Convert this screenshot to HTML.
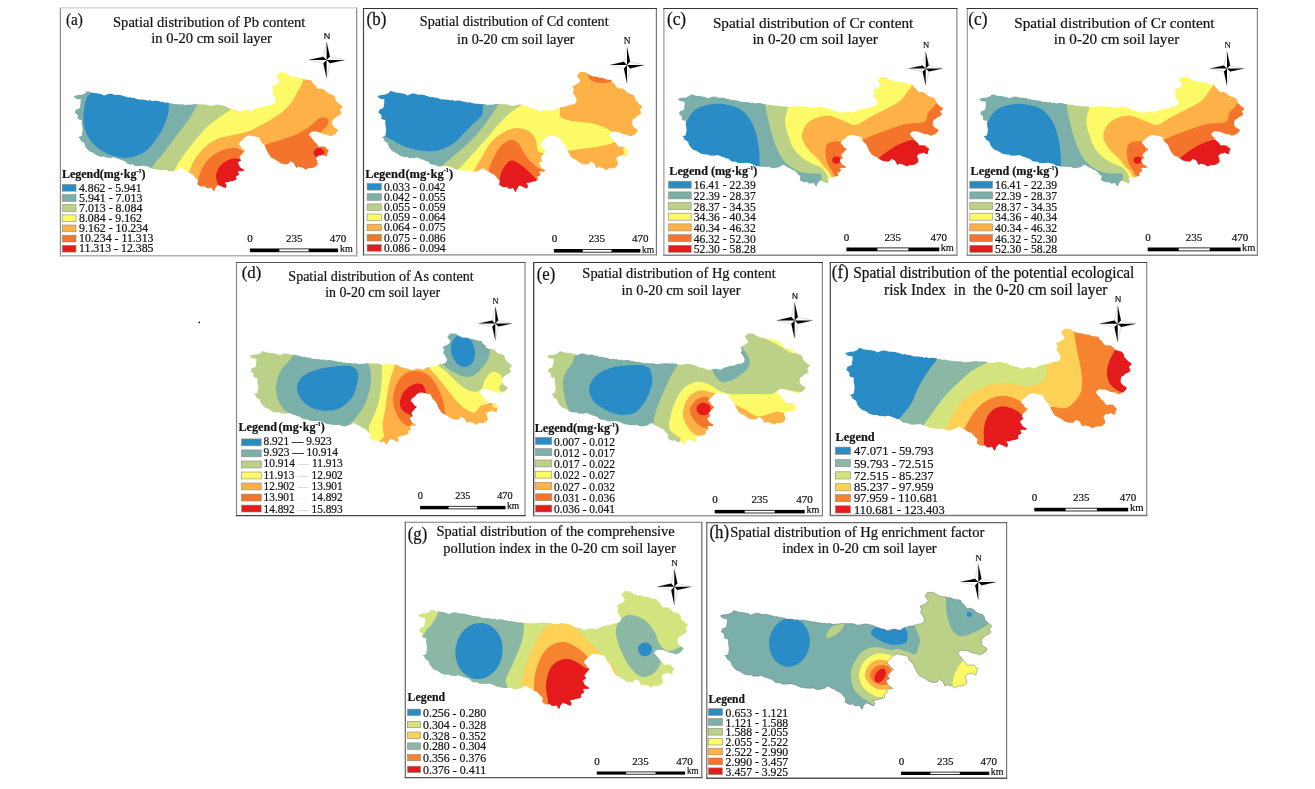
<!DOCTYPE html>
<html><head><meta charset="utf-8"><title>Spatial distribution of heavy metals in 0-20 cm soil layer</title>
<style>
html,body{margin:0;padding:0;background:#fff;}
body{width:1315px;height:789px;overflow:hidden;}
svg{display:block;font-family:"Liberation Serif","Times New Roman",serif;will-change:transform;}
svg text{fill:#141414;stroke:#141414;stroke-width:.22px;}
</style></head><body>
<svg width="1315" height="789" viewBox="0 0 1315 789">
<defs><path id="ol" d="M845 353.1 L847.5 352.5 L849.9 351.8 L852.5 351.8 L855.1 351.1 L857.5 350 L858.7 348.1 L861.3 348.3 L863.7 349.4 L866.6 349.8 L869.5 350 L872.4 350.6 L875.1 351.1 L877.4 352.5 L879.9 351.6 L882.4 350.6 L885 350.5 L887.4 351.3 L889.9 351.8 L892.9 351.7 L895.8 352.2 L898.6 353.1 L900.8 353.5 L902.9 354.4 L905.2 354.1 L907.3 355 L909.8 355 L912.3 355.9 L914.7 356.6 L917.3 356.5 L919.8 356.8 L922 356.9 L924.1 357.8 L926.4 357 L928.5 358.2 L930.8 357.7 L933 357.8 L935.2 358 L937.3 358.7 L939.8 358.9 L942.2 359.8 L944.9 359.5 L947.3 360.3 L949.8 360.6 L952.3 361.1 L954.8 361 L957.2 361.6 L959.8 361.3 L962.3 361.6 L964.7 362.4 L967.3 361.7 L969.9 361.9 L972.5 361.3 L975 361.3 L977.5 361.2 L979.9 361.5 L982.4 361.4 L984.9 361.5 L987.4 362 L989.8 363 L992.4 362.9 L994.8 362.4 L997.3 361.7 L1000.1 361.8 L1002.8 362.7 L1005.5 363 L1008.2 364.1 L1010.7 365.5 L1013.5 366.1 L1015.8 367 L1018.3 367.1 L1020.4 368.5 L1022.9 368.6 L1026.6 367.4 L1028.9 367.1 L1031.1 367.6 L1033.3 368.2 L1035.5 368 L1037.4 366.4 L1039.7 365.5 L1042.4 365 L1045 364 L1047.8 364 L1050.5 363.2 L1053 362 L1056.2 361.7 L1059.2 360.7 L1060.9 357.4 L1059.7 354.9 L1058.4 352.4 L1056.5 349.9 L1057.7 346.8 L1055.9 343.1 L1058.1 342.7 L1059.9 341.2 L1062.1 340.6 L1064.6 337.5 L1062.9 334.9 L1060.9 332.5 L1062.5 330.7 L1064 328.7 L1066.8 328.8 L1069.6 328.7 L1072.1 330.2 L1074.6 331.8 L1076.7 332.7 L1078.8 333.3 L1081.1 333.2 L1083.3 333.7 L1085.8 334.5 L1088.4 334.5 L1090.8 335.6 L1093.3 336.2 L1095.8 336.6 L1098.3 336.8 L1099.7 339.4 L1102 341.2 L1103.6 343.7 L1105.8 345.6 L1108.2 345.3 L1110.7 345.6 L1113.3 347.6 L1115.7 349.9 L1118.8 351 L1122 351.8 L1123.8 354.4 L1124.5 357.4 L1126.4 359.3 L1128.2 361.2 L1130.3 362.4 L1131.9 364.3 L1128.8 366.8 L1130.7 370.5 L1128.4 372.4 L1125.7 373.6 L1123.8 375.6 L1121.3 376.7 L1120.7 379.5 L1120.7 382.4 L1123.2 385.5 L1125.3 386.4 L1127 388 L1125.3 390.4 L1123.2 392.3 L1120.7 393.4 L1118.2 394.2 L1115.9 392.8 L1113.2 392.3 L1110.6 391.9 L1108.2 390.7 L1105.8 389.8 L1102.7 389.4 L1099.5 389.2 L1097.4 390.4 L1095.8 392.3 L1097.4 394.7 L1099.5 396.7 L1101.1 399.2 L1103.3 401.1 L1104.8 402.8 L1105.8 404.8 L1108.3 404.7 L1110.7 404.6 L1113.2 404.8 L1114.8 407 L1117 408.6 L1115.5 411.5 L1115.1 414.8 L1112.7 414.2 L1110.7 412.9 L1108.4 413.9 L1105.9 414.1 L1103.4 416.6 L1104.7 419.7 L1105.3 422.9 L1102.2 426 L1099.1 426.6 L1095.9 426.6 L1092.2 428.5 L1089.7 426.6 L1087.2 426 L1084.7 425.3 L1082.2 426.6 L1081 424.1 L1079.7 421.6 L1076 419.7 L1073.5 422.8 L1069.8 422.8 L1067.6 422.3 L1065.4 421.8 L1063.5 420.4 L1061.6 419.2 L1059.8 417.9 L1057.2 416.8 L1054.8 415.4 L1053.6 413.5 L1052.3 411.6 L1051 409 L1049.7 405.8 L1048.4 403.4 L1046.4 401.5 L1044.5 399.5 L1043 395.5 L1040.2 394.8 L1037.3 394.2 L1034.5 393.6 L1031.6 393.2 L1029.4 394.1 L1027.3 395.4 L1025.5 397.5 L1022.4 399.8 L1021 402.6 L1023.4 404.6 L1024.9 407.3 L1028 409.1 L1026.1 410.5 L1024.6 412.3 L1022.9 414 L1021.7 416 L1023.6 419.1 L1021.5 420.1 L1019.9 421.6 L1021.3 423.7 L1022.4 426 L1024.9 427.4 L1027.3 429.1 L1024.9 430 L1022.3 429.7 L1019.9 430.3 L1021.7 432.8 L1020.1 434.5 L1018 435.3 L1018.6 438.4 L1015.7 439.8 L1012.4 440.3 L1009.3 441.3 L1006.1 441.6 L1008 444.1 L1007.4 447.2 L1004.8 446.6 L1002.4 445.3 L998.7 444.1 L996.2 447.2 L994.9 450.9 L993.2 448.9 L991.8 446.6 L989.4 447.4 L986.8 447.2 L984.9 445.3 L982.5 445.9 L980 445.3 L976.8 443.4 L977.5 439.1 L975.3 437.5 L973.7 435.3 L971.2 432.8 L968.9 432.2 L967 430.9 L965 429.7 L962.2 428.6 L960 426.5 L957.1 427.4 L954.7 429.2 L951.6 429.7 L948.5 430.4 L945.9 429.9 L943.5 428.6 L940.6 428.9 L937.7 428.8 L934.8 428.6 L932.3 428.1 L929.7 427.8 L927.3 426.7 L924.9 425.4 L922.3 424.8 L919.8 424.1 L917.3 424.6 L914.8 424.5 L912.3 424.8 L909.8 424.2 L907.3 422.9 L904.8 423.1 L902.4 422.3 L899.9 419.8 L897.3 419.1 L894.9 418 L892.3 417.3 L889.9 416.1 L887.4 415.7 L884.9 416.5 L882.4 416.1 L879.8 416.3 L877.5 414.9 L874.9 415.1 L872.4 414.8 L869.7 413.9 L867.4 412.3 L865 410.8 L862.2 409.9 L860 408 L857.5 404.9 L856.2 401.1 L854.4 399.8 L852.5 398.6 L851.7 396.4 L850 394.9 L853.7 393.6 L854.3 389.9 L854.6 387.4 L854.3 384.9 L853.7 382.4 L853.7 379.9 L853.7 377.4 L851.4 377.2 L849.4 376.2 L849.4 372.4 L846.2 369.9 L847.5 366.8 L849.8 366.1 L851.8 364.9 L852.1 362 L852.6 359.1 L852.5 356.2 L850 356.1 L847.5 355.6Z"/></defs>
<rect width="1315" height="789" fill="#fff"/>
<g><rect x="60.4" y="7.9" width="296.3" height="247.9" fill="#fff"/><path d="M60.4 7.4 V256.4" stroke="#8a8a8a" stroke-width="1.2" fill="none"/><path d="M356.7 7.4 V256.4" stroke="#8a8a8a" stroke-width="1.2" fill="none"/><path d="M59.8 7.9 H357.3" stroke="#cdcdcd" stroke-width="1.1" fill="none"/><path d="M59.8 255.8 H357.3" stroke="#b0b0b0" stroke-width="1.4" fill="none"/><mask id="c1" maskUnits="userSpaceOnUse" x="70.6" y="69.4" width="275.2" height="125.2"><use href="#ol" transform="translate(73.60 72.40) scale(0.9383 0.9755) translate(-845.00 -328.70)" fill="#fff"/></mask><g mask="url(#c1)"><rect x="71.6" y="70.4" width="273.2" height="123.2" fill="#7aafaa"/><path d="M91 93 C91.8 91.1 85.5 86.3 92 85 C98.5 83.7 117.2 83.3 130 85 C142.8 86.7 162.5 91.8 169 95 C175.5 98.2 169.2 100.6 169 104 C168.8 107.4 169 111 167.7 115.5 C166.4 120 164.6 125.2 161.4 130.7 C158.2 136.2 152.8 144.3 148.7 148.4 C144.6 152.5 141.2 153.9 137 155.5 C132.8 157.1 128.4 158.3 123.4 158 C118.4 157.7 112 155.9 106.9 153.5 C101.8 151.1 96.6 147.2 93 143.4 C89.4 139.6 86.9 134.9 85.3 130.7 C83.7 126.5 83.5 122.2 83.4 118 C83.3 113.8 84.1 108.9 84.7 105.3 C85.3 101.7 86.2 98.5 87.2 96.5 C88.2 94.5 90.2 94.9 91 93Z" fill="#2a8cc7"/><path d="M199 96 C198.7 97.5 198.7 101.2 197 105 C195.3 108.8 192.3 114 189 119 C185.7 124 181 129.7 177 135 C173 140.3 169 145.8 165 151 C161 156.2 155.8 161.8 153 166 C150.2 170.2 148.8 174.3 148 176 L148 200 L360 200 L360 60 L199 60Z" fill="#bbd188"/><path d="M236 100 C235.2 101.5 234.2 105.8 231 109 C227.8 112.2 221.3 115.7 217 119 C212.7 122.3 209 125 205 129 C201 133 197 138 193 143 C189 148 184.2 154.3 181 159 C177.8 163.7 176 167.2 174 171 C172 174.8 169.8 180.2 169 182 L169 200 L360 200 L360 60 L236 60Z" fill="#fcfa66"/><path d="M185 182 C185.7 180.3 187.3 175.8 189 172 C190.7 168.2 192.3 163.2 195 159 C197.7 154.8 201.3 150.3 205 147 C208.7 143.7 212.3 141 217 139 C221.7 137 227.7 136.3 233 135 C238.3 133.7 243.7 133 249 131 C254.3 129 259.7 126 265 123 C270.3 120 276.7 116.3 281 113 C285.3 109.7 288.3 106.3 291 103 C293.7 99.7 295 96.7 297 93 C299 89.3 301.5 85.2 303 81 C304.5 76.8 305.5 70.2 306 68 L360 68 L360 200 L185 200Z" fill="#fdb146"/><path d="M196 190 C196.3 188.3 196.8 183.8 198 180 C199.2 176.2 200.8 170.8 203 167 C205.2 163.2 207.7 159.8 211 157 C214.3 154.2 219 151.5 223 150 C227 148.5 231.7 147.8 235 148 C238.3 148.2 240.2 149.3 243 151 C245.8 152.7 250.5 156.8 252 158 L252 200 L196 200Z" fill="#f5742b"/><path d="M219 195 C218.8 193.3 218.5 188.3 218 185 C217.5 181.7 215.5 178.3 216 175 C216.5 171.7 218.5 167.7 221 165 C223.5 162.3 227.8 160 231 159 C234.2 158 236.8 158.3 240 159 C243.2 159.7 248.3 162.3 250 163 L250 200 L219 200Z" fill="#e41a1c"/><path d="M258 150 C258.8 144.2 261.8 146.5 265 145 C268.2 143.5 272 142.7 277 141 C282 139.3 289.7 137.3 295 135 C300.3 132.7 305.3 129.5 309 127 C312.7 124.5 314.7 121.6 317 120 C319.3 118.4 321.2 117.4 323 117.3 C324.8 117.2 327.2 118.2 328 119.5 C328.8 120.8 328.5 123.1 327.5 125 C326.5 126.9 323.6 129.2 322 131 C320.4 132.8 315.8 132.8 318 136 C320.2 139.2 332.2 142.7 335 150 C337.8 157.3 347.5 175 335 180 C322.5 185 272.8 185 260 180 C247.2 175 257.2 155.8 258 150Z" fill="#f5742b"/><ellipse cx="319" cy="152.8" rx="5.4" ry="4.7" fill="#e41a1c"/></g><text transform="translate(65.9 24.6) scale(0.957 1.059)" font-size="16">(a)</text><text x="209.2" y="26.5" font-size="14.55" text-anchor="middle">Spatial distribution of Pb content</text><text x="211.6" y="43.2" font-size="14.57" text-anchor="middle">in 0-20 cm soil layer</text><g transform="translate(326.6 60)"><path d="M0 -18.2 L3.3 -3.3 L18.1 0 L3.3 3.3 L0 18.2 L-3.3 3.3 L-18.1 0 L-3.3 -3.3 Z" fill="#fff" stroke="#9a9a9a" stroke-width="0.35"/><path d="M0 0 L0 -18.2 L3.3 -3.3 Z M0 0 L18.1 0 L3.3 3.3 Z M0 0 L0 18.2 L-3.3 3.3 Z M0 0 L-18.1 0 L-3.3 -3.3 Z" fill="#000"/></g><text x="327" y="38.7" font-size="9" text-anchor="middle" fill="#222" font-family="Liberation Sans, sans-serif">N</text><rect x="249.9" y="248.5" width="88.2" height="3.7" fill="#000"/><rect x="279.3" y="249.3" width="29.4" height="2.1" fill="#fff"/><text x="250" y="242" font-size="11" text-anchor="middle">0</text><text x="294.3" y="242" font-size="11" text-anchor="middle">235</text><text x="338" y="242" font-size="11" text-anchor="middle">470</text><text transform="translate(339.9 251.9) scale(0.954 1.000)" font-size="10.5">km</text><text transform="translate(61.9 177.8) scale(1.016 1)" font-size="11.8" font-weight="bold">Legend<tspan dx="0">(mg·kg</tspan><tspan font-size="5.9" dy="-5.1">-1</tspan><tspan dy="5.1">)</tspan></text><rect x="62.2" y="184.4" width="13.8" height="6.8" fill="#2a8cc7" stroke="#8c8c78" stroke-width="0.6"/><text transform="translate(79 191.5) scale(1.012 1.000)" font-size="11.6">4.862 - 5.941</text><rect x="62.2" y="194.6" width="13.8" height="6.8" fill="#7aafaa" stroke="#8c8c78" stroke-width="0.6"/><text transform="translate(79 201.7) scale(1.025 1.000)" font-size="11.6">5.941 - 7.013</text><rect x="62.2" y="204.7" width="13.8" height="6.8" fill="#bbd188" stroke="#8c8c78" stroke-width="0.6"/><text transform="translate(79 211.8) scale(1.025 1.000)" font-size="11.6">7.013 - 8.084</text><rect x="62.2" y="214.9" width="13.8" height="6.8" fill="#fcfa66" stroke="#8c8c78" stroke-width="0.6"/><text transform="translate(79 221.9) scale(1.018 1.000)" font-size="11.6">8.084 - 9.162</text><rect x="62.2" y="225" width="13.8" height="6.8" fill="#fdb146" stroke="#8c8c78" stroke-width="0.6"/><text transform="translate(79 232.1) scale(1.023 1.000)" font-size="11.6">9.162 - 10.234</text><rect x="62.2" y="235.2" width="13.8" height="6.8" fill="#f5742b" stroke="#8c8c78" stroke-width="0.6"/><text transform="translate(79 242.2) scale(1.021 1.000)" font-size="11.6">10.234 - 11.313</text><rect x="62.2" y="245.3" width="13.8" height="6.8" fill="#e41a1c" stroke="#8c8c78" stroke-width="0.6"/><text transform="translate(79 252.4) scale(1.021 1.000)" font-size="11.6">11.313 - 12.385</text></g>
<g><rect x="363.5" y="8.5" width="292.9" height="246.4" fill="#fff"/><path d="M363.5 8 V255.5" stroke="#444" stroke-width="1.2" fill="none"/><path d="M656.4 8 V255.5" stroke="#777" stroke-width="1.2" fill="none"/><path d="M362.9 8.5 H657" stroke="#333" stroke-width="1.1" fill="none"/><path d="M362.9 254.9 H657" stroke="#888" stroke-width="1.4" fill="none"/><mask id="c2" maskUnits="userSpaceOnUse" x="374.3" y="69" width="271.2" height="126.2"><use href="#ol" transform="translate(377.30 72.00) scale(0.9244 0.9836) translate(-845.00 -328.70)" fill="#fff"/></mask><g mask="url(#c2)"><rect x="375.3" y="70" width="269.2" height="124.2" fill="#fcfa66"/><path d="M524 98 C523.5 99.2 523.3 102.5 521 105 C518.7 107.5 513.8 109.7 510 113 C506.2 116.3 502 120.7 498 125 C494 129.3 490.7 133.7 486 139 C481.3 144.3 474.7 151.8 470 157 C465.3 162.2 461 166.2 458 170 C455 173.8 453 178.3 452 180 L452 200 L360 200 L360 60 L524 60Z" fill="#bbd188"/><path d="M499 98 C498.8 99 499.5 100.8 498 104 C496.5 107.2 493.3 112.2 490 117 C486.7 121.8 482.3 128 478 133 C473.7 138 468.7 142.7 464 147 C459.3 151.3 453.3 156.2 450 159 C446.7 161.8 446.7 161.5 444 164 C441.3 166.5 435.7 172.3 434 174 L434 200 L360 200 L360 60 L499 60Z" fill="#7aafaa"/><path d="M483 95 C483 96.7 483.2 101.7 483 105 C482.8 108.3 483.5 112 482 115 C480.5 118 477 120 474 123 C471 126 467.3 129.7 464 133 C460.7 136.3 458 140.2 454 143 C450 145.8 445 148.7 440 150 C435 151.3 429.7 151.5 424 151 C418.3 150.5 411.3 148.8 406 147 C400.7 145.2 396 142 392 140 C388 138 386.3 137.3 382 135 C377.7 132.7 368.7 127.5 366 126 L360 126 L360 60 L483 60Z" fill="#2a8cc7"/><path d="M471 180 C471.5 178.5 472.2 174.8 474 171 C475.8 167.2 479 162 482 157 C485 152 488 145.3 492 141 C496 136.7 501.7 133.2 506 131 C510.3 128.8 514 127.8 518 128 C522 128.2 527 129.8 530 132 C533 134.2 534.7 137.8 536 141 C537.3 144.2 536.3 148.8 538 151 C539.7 153.2 543 152.5 546 154 C549 155.5 554.3 159 556 160 L560 200 L471 200Z" fill="#fdb146"/><path d="M486 182 C486.3 180.5 487 176.5 488 173 C489 169.5 490 165.3 492 161 C494 156.7 497 150.5 500 147 C503 143.5 507 140.7 510 140 C513 139.3 515.7 140.8 518 143 C520.3 145.2 522 150 524 153 C526 156 527.3 158.3 530 161 C532.7 163.7 536.3 166.8 540 169 C543.7 171.2 550 173.2 552 174 L552 200 L486 200Z" fill="#f5742b"/><path d="M498 195 C498.2 193 498.3 187 499 183 C499.7 179 500.2 174.7 502 171 C503.8 167.3 507.3 162.3 510 161 C512.7 159.7 515 161.3 518 163 C521 164.7 525 168.3 528 171 C531 173.7 533 176.3 536 179 C539 181.7 544.3 185.7 546 187 L546 200 L498 200Z" fill="#e41a1c"/><path d="M559 100 C559.2 101.5 559.7 106.2 560 109 C560.3 111.8 559 115 561 117 C563 119 567.2 120 572 121 C576.8 122 584.7 122 590 123 C595.3 124 600.3 125.5 604 127 C607.7 128.5 609.3 130.8 612 132 C614.7 133.2 617.3 133.3 620 134 C622.7 134.7 623 135.3 628 136 C633 136.7 646.3 137.7 650 138 L660 138 L660 60 L559 60Z" fill="#fdb146"/><path d="M589 78 C589.8 79.9 592.2 80.7 594 81.5 C595.8 82.3 597.8 82.8 600 83 C602.2 83.2 605 83 607 82.5 C609 82 611.2 82.1 612 80 C612.8 77.9 615.8 71.7 612 70 C608.2 68.3 592.8 68.7 589 70 C585.2 71.3 588.2 76.1 589 78Z" fill="#f5742b"/><path d="M558 152.5 C559.5 152.2 563.3 151.6 567 151 C570.7 150.4 575.2 149.7 580 149 C584.8 148.3 591 147.8 596 147 C601 146.2 606.7 144.9 610 144 C613.3 143.1 614 141.2 616 141.5 C618 141.8 618 144.6 622 146 C626 147.4 637 149.3 640 150 L640 185 L558 185Z" fill="#fdb146"/><path d="M623.3 146 L627 145.5 L629 151 L626.5 157.5 L623.5 154Z" fill="#fcfa66"/></g><text transform="translate(366.6 24.6) scale(1.056 1.208)" font-size="16">(b)</text><text x="514.2" y="26.1" font-size="14.17" text-anchor="middle">Spatial distribution of Cd content</text><text x="515.8" y="43.6" font-size="14.2" text-anchor="middle">in 0-20 cm soil layer</text><g transform="translate(627 65.1)"><path d="M0 -18.2 L3.1 -3.3 L17.1 0 L3.1 3.3 L0 18.2 L-3.1 3.3 L-17.1 0 L-3.1 -3.3 Z" fill="#fff" stroke="#9a9a9a" stroke-width="0.35"/><path d="M0 0 L0 -18.2 L3.1 -3.3 Z M0 0 L17.1 0 L3.1 3.3 Z M0 0 L0 18.2 L-3.1 3.3 Z M0 0 L-17.1 0 L-3.1 -3.3 Z" fill="#000"/></g><text x="627" y="43.7" font-size="9.3" text-anchor="middle" fill="#222">N</text><rect x="553.9" y="249" width="86.5" height="3.6" fill="#000"/><rect x="582.7" y="249.8" width="28.8" height="2" fill="#fff"/><text x="554.4" y="242" font-size="11" text-anchor="middle">0</text><text x="596.8" y="242" font-size="11" text-anchor="middle">235</text><text x="640.2" y="242" font-size="11" text-anchor="middle">470</text><text transform="translate(642 252.5) scale(0.902 1.000)" font-size="10.5">km</text><text transform="translate(365.2 177.7) scale(0.943 1)" font-size="13.3" font-weight="bold">Legend<tspan dx="0.6">(mg·kg</tspan><tspan font-size="6.7" dy="-5.7">-1</tspan><tspan dy="5.7">)</tspan></text><rect x="367.1" y="183.5" width="14.2" height="6.6" fill="#2a8cc7" stroke="#8c8c78" stroke-width="0.6"/><text transform="translate(383.9 190.7) scale(0.942 1.000)" font-size="12.3">0.033 - 0.042</text><rect x="367.1" y="193.7" width="14.2" height="6.6" fill="#7aafaa" stroke="#8c8c78" stroke-width="0.6"/><text transform="translate(383.9 200.9) scale(0.942 1.000)" font-size="12.3">0.042 - 0.055</text><rect x="367.1" y="203.9" width="14.2" height="6.6" fill="#bbd188" stroke="#8c8c78" stroke-width="0.6"/><text transform="translate(383.9 211.1) scale(0.942 1.000)" font-size="12.3">0.055 - 0.059</text><rect x="367.1" y="214" width="14.2" height="6.6" fill="#fcfa66" stroke="#8c8c78" stroke-width="0.6"/><text transform="translate(383.9 221.2) scale(0.942 1.000)" font-size="12.3">0.059 - 0.064</text><rect x="367.1" y="224.2" width="14.2" height="6.6" fill="#fdb146" stroke="#8c8c78" stroke-width="0.6"/><text transform="translate(383.9 231.4) scale(0.942 1.000)" font-size="12.3">0.064 - 0.075</text><rect x="367.1" y="234.4" width="14.2" height="6.6" fill="#f5742b" stroke="#8c8c78" stroke-width="0.6"/><text transform="translate(383.9 241.6) scale(0.942 1.000)" font-size="12.3">0.075 - 0.086</text><rect x="367.1" y="244.6" width="14.2" height="6.6" fill="#e41a1c" stroke="#8c8c78" stroke-width="0.6"/><text transform="translate(383.9 251.8) scale(0.942 1.000)" font-size="12.3">0.086 - 0.094</text></g>
<g><rect x="663.9" y="8.5" width="293" height="246.7" fill="#fff"/><path d="M663.9 8 V255.8" stroke="#999" stroke-width="1.2" fill="none"/><path d="M956.9 8 V255.8" stroke="#888" stroke-width="1.2" fill="none"/><path d="M663.3 8.5 H957.5" stroke="#333" stroke-width="1.1" fill="none"/><path d="M663.3 255.2 H957.5" stroke="#888" stroke-width="1.4" fill="none"/><mask id="c3" maskUnits="userSpaceOnUse" x="674.7" y="74" width="271.5" height="115.7"><use href="#ol" transform="translate(677.70 77.00) scale(0.9254 0.8977) translate(-845.00 -328.70)" fill="#fff"/></mask><g mask="url(#c3)"><rect x="675.7" y="75" width="269.5" height="113.7" fill="#7aafaa"/><path d="M687 121 C689.5 116 691.5 112.7 695 110 C698.5 107.3 703.5 106 708 105 C712.5 104 716.7 103.3 722 104 C727.3 104.7 735 105.8 740 109 C745 112.2 749 117.3 752 123 C755 128.7 756.8 136 758 143 C759.2 150 760 159.2 759.5 165 C759 170.8 761.6 175.8 755 178 C748.4 180.2 730.8 181 720 178 C709.2 175 696.7 166.3 690 160 C683.3 153.7 680.5 146.5 680 140 C679.5 133.5 684.5 126 687 121Z" fill="#2a8cc7"/><path d="M765 98 C765 99 764.5 100.5 765 104 C765.5 107.5 766.8 113.8 768 119 C769.2 124.2 770.3 129.7 772 135 C773.7 140.3 775.7 146.3 778 151 C780.3 155.7 782.7 159.7 786 163 C789.3 166.3 794 169.2 798 171 C802 172.8 806.5 173.1 810 173.5 C813.5 173.9 817.1 173.1 819 173.5 C820.9 173.9 821.2 173.6 821.5 176 C821.8 178.4 820.7 186 820.5 188 L960 188 L960 60 L765 60Z" fill="#bbd188"/><path d="M789 98 C788.8 99.7 788.7 104.2 788 108 C787.3 111.8 785 116.5 785 121 C785 125.5 786.5 130.3 788 135 C789.5 139.7 791.3 145 794 149 C796.7 153 800.7 156.4 804 159 C807.3 161.6 811.1 163.1 814 164.5 C816.9 165.9 819.3 166.1 821.3 167.5 C823.3 168.9 824.8 171.4 826 173.2 C827.2 174.9 828.1 177.2 828.5 178 L836 178 L960 190 L960 60 L789 60Z" fill="#fcfa66"/><path d="M833 180 C832.6 179.2 831.8 176.9 830.8 175.1 C829.8 173.3 828.1 170.8 827 169.4 C825.9 168.1 825.5 168.7 824 167 C822.5 165.3 820.7 162 818 159 C815.3 156 810.7 152.7 808 149 C805.3 145.3 802.3 141 802 137 C801.7 133 803.7 128.2 806 125 C808.3 121.8 812 119.5 816 118 C820 116.5 825.3 115.5 830 116 C834.7 116.5 839.7 119.5 844 121 C848.3 122.5 851.7 125.7 856 125 C860.3 124.3 865 119.7 870 117 C875 114.3 881 111.7 886 109 C891 106.3 896.3 104 900 101 C903.7 98 906 93.7 908 91 C910 88.3 910.8 88.2 912 85 C913.2 81.8 914.5 74.2 915 72 L960 72 L960 190 L833 190Z" fill="#fdb146"/><path d="M825.5 150 C825.7 146.9 826.6 144.9 828 143.5 C829.4 142.1 831.7 141.8 834 141.6 C836.3 141.3 839.3 140.9 842 142 C844.7 143.1 848.3 142 850 148 C851.7 154 854.2 173.2 852 178 C849.8 182.8 839.8 177.7 836.5 176.5 C833.2 175.3 833.6 173.4 832 171 C830.4 168.6 828.1 165.3 827 161.8 C825.9 158.3 825.3 153.1 825.5 150Z" fill="#f5742b"/><ellipse cx="836.3" cy="160.1" rx="4.1" ry="3.6" fill="#e41a1c"/><path d="M853 148 C854.5 146.8 858.5 142.7 862 140.5 C865.5 138.3 869.3 136.9 874 135 C878.7 133.1 884.7 130.8 890 129 C895.3 127.2 901 125 906 124 C911 123 916.7 123.6 920 123 C923.3 122.4 924.7 122.2 926 120.5 C927.3 118.8 926.5 115.6 928 113 C929.5 110.4 933 108.2 935 105 C937 101.8 939.2 95.8 940 94 L960 94 L960 190 L853 190Z" fill="#f5742b"/><path d="M870 168 C871.5 166.3 876 160.8 879 158 C882 155.2 884.5 153.3 888 151 C891.5 148.7 896 145.8 900 144 C904 142.2 908.7 140.2 912 140 C915.3 139.8 917 141.5 920 143 C923 144.5 925 147.8 930 149 C935 150.2 946.7 149.8 950 150 L950 190 L870 190Z" fill="#e41a1c"/></g><text transform="translate(666.9 24.8) scale(1.081 1.123)" font-size="16">(c)</text><text x="813.1" y="28.1" font-size="15.22" text-anchor="middle">Spatial distribution of Cr content</text><text x="815.1" y="44.3" font-size="15.16" text-anchor="middle">in 0-20 cm soil layer</text><g transform="translate(925.7 68.5)"><path d="M0 -17.1 L3.1 -3.1 L17.3 0 L3.1 3.1 L0 17.1 L-3.1 3.1 L-17.3 0 L-3.1 -3.1 Z" fill="#fff" stroke="#9a9a9a" stroke-width="0.35"/><path d="M0 0 L0 -17.1 L3.1 -3.1 Z M0 0 L17.3 0 L3.1 3.1 Z M0 0 L0 17.1 L-3.1 3.1 Z M0 0 L-17.3 0 L-3.1 -3.1 Z" fill="#000"/></g><text x="926.2" y="47.9" font-size="8.6" text-anchor="middle" fill="#222">N</text><rect x="846.4" y="247.5" width="92.9" height="3.8" fill="#000"/><rect x="877.4" y="248.3" width="31" height="2.2" fill="#fff"/><text x="846.6" y="241.1" font-size="11" text-anchor="middle">0</text><text x="892.8" y="241.1" font-size="11" text-anchor="middle">235</text><text x="938.8" y="241.1" font-size="11" text-anchor="middle">470</text><text transform="translate(940.7 251) scale(0.984 1.000)" font-size="10.5">km</text><text transform="translate(669.3 175.1) scale(0.984 1)" font-size="12.4" font-weight="bold">Legend<tspan dx="3">(mg·kg</tspan><tspan font-size="6.2" dy="-5.3">-1</tspan><tspan dy="5.3">)</tspan></text><rect x="668.5" y="181.2" width="22.7" height="7" fill="#2a8cc7" stroke="#8c8c78" stroke-width="0.6"/><text transform="translate(693.8 189.1) scale(0.969 1.000)" font-size="12">16.41 - 22.39</text><rect x="668.5" y="191.9" width="22.7" height="7" fill="#7aafaa" stroke="#8c8c78" stroke-width="0.6"/><text transform="translate(693.8 199.8) scale(0.969 1.000)" font-size="12">22.39 - 28.37</text><rect x="668.5" y="202.6" width="22.7" height="7" fill="#bbd188" stroke="#8c8c78" stroke-width="0.6"/><text transform="translate(693.8 210.5) scale(0.969 1.000)" font-size="12">28.37 - 34.35</text><rect x="668.5" y="213.2" width="22.7" height="7" fill="#fcfa66" stroke="#8c8c78" stroke-width="0.6"/><text transform="translate(693.8 221.1) scale(0.969 1.000)" font-size="12">34.36 - 40.34</text><rect x="668.5" y="223.9" width="22.7" height="7" fill="#fdb146" stroke="#8c8c78" stroke-width="0.6"/><text transform="translate(693.8 231.8) scale(0.969 1.000)" font-size="12">40.34 - 46.32</text><rect x="668.5" y="234.6" width="22.7" height="7" fill="#f5742b" stroke="#8c8c78" stroke-width="0.6"/><text transform="translate(693.8 242.5) scale(0.969 1.000)" font-size="12">46.32 - 52.30</text><rect x="668.5" y="245.3" width="22.7" height="7" fill="#e41a1c" stroke="#8c8c78" stroke-width="0.6"/><text transform="translate(693.8 253.2) scale(0.969 1.000)" font-size="12">52.30 - 58.28</text></g>
<g><rect x="967.3" y="8.5" width="290.1" height="246.7" fill="#fff"/><path d="M967.3 8 V255.8" stroke="#999" stroke-width="1.2" fill="none"/><path d="M1257.4 8 V255.8" stroke="#888" stroke-width="1.2" fill="none"/><path d="M966.7 8.5 H1258" stroke="#333" stroke-width="1.1" fill="none"/><path d="M966.7 255.2 H1258" stroke="#888" stroke-width="1.4" fill="none"/><mask id="c4" maskUnits="userSpaceOnUse" x="976" y="74" width="271.5" height="115.7"><use href="#ol" transform="translate(979.00 77.00) scale(0.9254 0.8977) translate(-845.00 -328.70)" fill="#fff"/></mask><g mask="url(#c4)"><rect x="977" y="75" width="269.5" height="113.7" fill="#7aafaa"/><path d="M988.3 121 C990.8 116 992.8 112.7 996.3 110 C999.8 107.3 1004.8 106 1009.3 105 C1013.8 104 1018 103.3 1023.3 104 C1028.6 104.7 1036.3 105.8 1041.3 109 C1046.3 112.2 1050.3 117.3 1053.3 123 C1056.3 128.7 1058 136 1059.3 143 C1060.5 150 1061.3 159.2 1060.8 165 C1060.3 170.8 1062.9 175.8 1056.3 178 C1049.7 180.2 1032.1 181 1021.3 178 C1010.5 175 998 166.3 991.3 160 C984.6 153.7 981.8 146.5 981.3 140 C980.8 133.5 985.8 126 988.3 121Z" fill="#2a8cc7"/><path d="M1066.3 98 C1066.3 99 1065.8 100.5 1066.3 104 C1066.8 107.5 1068.1 113.8 1069.3 119 C1070.5 124.2 1071.6 129.7 1073.3 135 C1075 140.3 1077 146.3 1079.3 151 C1081.6 155.7 1084 159.7 1087.3 163 C1090.6 166.3 1095.3 169.2 1099.3 171 C1103.3 172.8 1107.8 173.1 1111.3 173.5 C1114.8 173.9 1118.4 173.1 1120.3 173.5 C1122.2 173.9 1122.5 173.6 1122.8 176 C1123 178.4 1122 186 1121.8 188 L1261.3 188 L1261.3 60 L1066.3 60Z" fill="#bbd188"/><path d="M1090.3 98 C1090.1 99.7 1090 104.2 1089.3 108 C1088.6 111.8 1086.3 116.5 1086.3 121 C1086.3 125.5 1087.8 130.3 1089.3 135 C1090.8 139.7 1092.6 145 1095.3 149 C1098 153 1102 156.4 1105.3 159 C1108.6 161.6 1112.4 163.1 1115.3 164.5 C1118.2 165.9 1120.6 166.1 1122.6 167.5 C1124.6 168.9 1126.1 171.4 1127.3 173.2 C1128.5 174.9 1129.4 177.2 1129.8 178 L1137.3 178 L1261.3 190 L1261.3 60 L1090.3 60Z" fill="#fcfa66"/><path d="M1134.3 180 C1133.9 179.2 1133.1 176.9 1132.1 175.1 C1131.1 173.3 1129.4 170.8 1128.3 169.4 C1127.2 168.1 1126.8 168.7 1125.3 167 C1123.8 165.3 1122 162 1119.3 159 C1116.6 156 1112 152.7 1109.3 149 C1106.6 145.3 1103.6 141 1103.3 137 C1103 133 1105 128.2 1107.3 125 C1109.6 121.8 1113.3 119.5 1117.3 118 C1121.3 116.5 1126.6 115.5 1131.3 116 C1136 116.5 1141 119.5 1145.3 121 C1149.6 122.5 1153 125.7 1157.3 125 C1161.6 124.3 1166.3 119.7 1171.3 117 C1176.3 114.3 1182.3 111.7 1187.3 109 C1192.3 106.3 1197.6 104 1201.3 101 C1205 98 1207.3 93.7 1209.3 91 C1211.3 88.3 1212.1 88.2 1213.3 85 C1214.5 81.8 1215.8 74.2 1216.3 72 L1261.3 72 L1261.3 190 L1134.3 190Z" fill="#fdb146"/><path d="M1126.8 150 C1127 146.9 1127.9 144.9 1129.3 143.5 C1130.7 142.1 1133 141.8 1135.3 141.6 C1137.6 141.3 1140.6 140.9 1143.3 142 C1146 143.1 1149.6 142 1151.3 148 C1153 154 1155.5 173.2 1153.3 178 C1151 182.8 1141.1 177.7 1137.8 176.5 C1134.5 175.3 1134.9 173.4 1133.3 171 C1131.7 168.6 1129.4 165.3 1128.3 161.8 C1127.2 158.3 1126.6 153.1 1126.8 150Z" fill="#f5742b"/><ellipse cx="1137.6" cy="160.1" rx="4.1" ry="3.6" fill="#e41a1c"/><path d="M1154.3 148 C1155.8 146.8 1159.8 142.7 1163.3 140.5 C1166.8 138.3 1170.6 136.9 1175.3 135 C1180 133.1 1186 130.8 1191.3 129 C1196.6 127.2 1202.3 125 1207.3 124 C1212.3 123 1218 123.6 1221.3 123 C1224.6 122.4 1226 122.2 1227.3 120.5 C1228.6 118.8 1227.8 115.6 1229.3 113 C1230.8 110.4 1234.3 108.2 1236.3 105 C1238.3 101.8 1240.5 95.8 1241.3 94 L1261.3 94 L1261.3 190 L1154.3 190Z" fill="#f5742b"/><path d="M1171.3 168 C1172.8 166.3 1177.3 160.8 1180.3 158 C1183.3 155.2 1185.8 153.3 1189.3 151 C1192.8 148.7 1197.3 145.8 1201.3 144 C1205.3 142.2 1210 140.2 1213.3 140 C1216.6 139.8 1218.3 141.5 1221.3 143 C1224.3 144.5 1226.3 147.8 1231.3 149 C1236.3 150.2 1248 149.8 1251.3 150 L1251.3 190 L1171.3 190Z" fill="#e41a1c"/></g><text transform="translate(968.2 24.8) scale(1.081 1.123)" font-size="16">(c)</text><text x="1114.4" y="28.1" font-size="15.22" text-anchor="middle">Spatial distribution of Cr content</text><text x="1116.5" y="44.3" font-size="15.16" text-anchor="middle">in 0-20 cm soil layer</text><g transform="translate(1227 68.5)"><path d="M0 -17.1 L3.1 -3.1 L17.3 0 L3.1 3.1 L0 17.1 L-3.1 3.1 L-17.3 0 L-3.1 -3.1 Z" fill="#fff" stroke="#9a9a9a" stroke-width="0.35"/><path d="M0 0 L0 -17.1 L3.1 -3.1 Z M0 0 L17.3 0 L3.1 3.1 Z M0 0 L0 17.1 L-3.1 3.1 Z M0 0 L-17.3 0 L-3.1 -3.1 Z" fill="#000"/></g><text x="1227.5" y="47.9" font-size="8.6" text-anchor="middle" fill="#222">N</text><rect x="1147.7" y="247.5" width="92.9" height="3.8" fill="#000"/><rect x="1178.7" y="248.3" width="31" height="2.2" fill="#fff"/><text x="1147.9" y="241.1" font-size="11" text-anchor="middle">0</text><text x="1194.1" y="241.1" font-size="11" text-anchor="middle">235</text><text x="1240.1" y="241.1" font-size="11" text-anchor="middle">470</text><text transform="translate(1242 251) scale(0.984 1.000)" font-size="10.5">km</text><text transform="translate(970.6 175.1) scale(0.984 1)" font-size="12.4" font-weight="bold">Legend<tspan dx="3">(mg·kg</tspan><tspan font-size="6.2" dy="-5.3">-1</tspan><tspan dy="5.3">)</tspan></text><rect x="969.8" y="181.2" width="22.7" height="7" fill="#2a8cc7" stroke="#8c8c78" stroke-width="0.6"/><text transform="translate(995.1 189.1) scale(0.969 1.000)" font-size="12">16.41 - 22.39</text><rect x="969.8" y="191.9" width="22.7" height="7" fill="#7aafaa" stroke="#8c8c78" stroke-width="0.6"/><text transform="translate(995.1 199.8) scale(0.969 1.000)" font-size="12">22.39 - 28.37</text><rect x="969.8" y="202.6" width="22.7" height="7" fill="#bbd188" stroke="#8c8c78" stroke-width="0.6"/><text transform="translate(995.1 210.5) scale(0.969 1.000)" font-size="12">28.37 - 34.35</text><rect x="969.8" y="213.2" width="22.7" height="7" fill="#fcfa66" stroke="#8c8c78" stroke-width="0.6"/><text transform="translate(995.1 221.1) scale(0.969 1.000)" font-size="12">34.36 - 40.34</text><rect x="969.8" y="223.9" width="22.7" height="7" fill="#fdb146" stroke="#8c8c78" stroke-width="0.6"/><text transform="translate(995.1 231.8) scale(0.969 1.000)" font-size="12">40.34 - 46.32</text><rect x="969.8" y="234.6" width="22.7" height="7" fill="#f5742b" stroke="#8c8c78" stroke-width="0.6"/><text transform="translate(995.1 242.5) scale(0.969 1.000)" font-size="12">46.32 - 52.30</text><rect x="969.8" y="245.3" width="22.7" height="7" fill="#e41a1c" stroke="#8c8c78" stroke-width="0.6"/><text transform="translate(995.1 253.2) scale(0.969 1.000)" font-size="12">52.30 - 58.28</text></g>
<g><rect x="236.5" y="262.5" width="288.5" height="253.1" fill="#fff"/><path d="M236.5 262 V516.2" stroke="#888" stroke-width="1.2" fill="none"/><path d="M525 262 V516.2" stroke="#888" stroke-width="1.2" fill="none"/><path d="M235.9 262.5 H525.6" stroke="#555" stroke-width="1.1" fill="none"/><path d="M235.9 515.6 H525.6" stroke="#444" stroke-width="1.4" fill="none"/><mask id="c5" maskUnits="userSpaceOnUse" x="246.5" y="330.5" width="268.7" height="117.7"><use href="#ol" transform="translate(249.50 333.50) scale(0.9157 0.9141) translate(-845.00 -328.70)" fill="#fff"/></mask><g mask="url(#c5)"><rect x="247.5" y="331.5" width="266.7" height="115.7" fill="#bbd188"/><path d="M276 390 C275.8 385 277 378.7 279 374 C281 369.3 284.5 365.7 288 362 C291.5 358.3 293 354 300 352 C307 350 320.8 349.7 330 350 C339.2 350.3 348.7 351.7 355 354 C361.3 356.3 365.3 360 368 364 C370.7 368 370.8 373.3 371 378 C371.2 382.7 370.2 387.3 369 392 C367.8 396.7 366.8 401 364 406 C361.2 411 356 418.4 352 422 C348 425.6 344.5 427 340 427.5 C335.5 428 330 426.2 325 425 C320 423.8 315.8 421.8 310 420 C304.2 418.2 295 416.7 290 414 C285 411.3 282.3 408 280 404 C277.7 400 276.2 395 276 390Z" fill="#7aafaa"/><path d="M297 390 C296.5 386.8 297.5 383.7 299 381 C300.5 378.3 302.8 375.9 306 374 C309.2 372.1 314 370.7 318 369.5 C322 368.3 325.5 367.7 330 367 C334.5 366.3 341.3 365.6 345 365.5 C348.7 365.4 350 365.6 352 366.5 C354 367.4 356 369.1 357 371 C358 372.9 358.5 374.2 358 378 C357.5 381.8 355.7 390 354 394 C352.3 398 350.3 399.7 348 402 C345.7 404.3 343 406.6 340 408 C337 409.4 333.3 410.2 330 410.5 C326.7 410.8 323.3 410.6 320 410 C316.7 409.4 313 408.7 310 407 C307 405.3 304.2 402.8 302 400 C299.8 397.2 297.5 393.2 297 390Z" fill="#2a8cc7"/><path d="M382 355 C373 356.7 382.2 360.8 382.1 365.2 C382 369.6 382 375.8 381.5 381.7 C381 387.6 380.3 395 379 400.7 C377.7 406.4 375.6 411.5 373.9 415.9 C372.2 420.3 369.3 423.5 368.8 427.3 C368.3 431.1 370.2 434.9 370.7 438.7 C371.2 442.5 345.4 448.1 372 450 C398.6 451.9 503.7 459.7 530 450 C556.3 440.3 534.2 401.7 530 392 C525.8 382.3 510.2 392.5 505 392 C499.8 391.5 499.5 390.7 499 389 C498.5 387.3 501.8 384.5 502 382 C502.2 379.5 501.7 375.7 500 374 C498.3 372.3 494.5 371 492 372 C489.5 373 486.7 377.3 485 380 C483.3 382.7 483.5 386 482 388 C480.5 390 478.6 391.8 476 392 C473.4 392.2 469.7 391 466.4 389.3 C463.1 387.6 459.7 384.7 456.3 381.7 C452.9 378.7 449.1 374.2 446.1 371.5 C443.1 368.8 440.2 367.9 438.5 365.2 C436.8 362.4 445.4 356.7 436 355 C426.6 353.3 391 353.3 382 355Z" fill="#fcfa66"/><path d="M394.8 355 C389.4 356.8 395.6 361.8 394.8 365.8 C394.1 369.8 391.6 374.4 390.3 379.2 C389 384 388 389.3 387.2 394.4 C386.4 399.5 386.1 404.8 385.3 409.6 C384.6 414.5 382.9 419.1 382.7 423.5 C382.5 427.9 383.4 431.8 384 436.2 C384.6 440.6 361.7 447.7 386 450 C410.3 452.3 506 456.3 530 450 C554 443.7 535.7 419 530 412 C524.3 405 502.3 409.5 496 408 C489.7 406.5 493.8 403.6 492 403 C490.2 402.4 486.8 404 485 404.5 C483.2 405 482.2 404.9 481 405.8 C479.8 406.7 479 408.5 477.8 409.6 C476.6 410.8 475.9 412.7 474 412.7 C472.1 412.7 469.3 411.6 466.4 409.6 C463.4 407.6 459.7 404.3 456.3 400.7 C452.9 397.1 449.5 392.2 446.1 388 C442.7 383.8 438.8 378.7 436 375.3 C433.2 371.9 431.1 371.1 429.6 367.7 C428.1 364.3 432.8 357.1 427 355 C421.2 352.9 400.2 353.2 394.8 355Z" fill="#fdb146"/><path d="M409.4 426 C405.9 426.6 401.7 421.6 399.2 418.4 C396.7 415.2 395.1 411 394.2 407 C393.2 403 392.9 398.6 393.5 394.4 C394.1 390.2 396 385.2 398 381.7 C400 378.2 402.7 375.2 405.6 373.4 C408.6 371.6 412.3 370.9 415.7 370.9 C419.1 370.9 422.9 371.8 425.8 373.4 C428.8 375 431.1 377.3 433.4 380.4 C435.7 383.5 438.1 388 439.8 391.8 C441.5 395.6 442.8 399.8 443.6 403.2 C444.4 406.6 444.4 409.3 444.8 412.1 C445.2 414.9 448.5 417.9 446 420 C443.5 422.1 434.3 425.8 430 425 C425.7 424.2 423.4 414.8 420 415 C416.6 415.2 412.9 425.4 409.4 426Z" fill="#f5742b"/><path d="M411.9 415.9 C409.4 414.7 405 412.9 403 410.8 C401 408.7 399.9 406.1 399.9 403.2 C399.9 400.2 401.4 395.8 403 393.1 C404.6 390.4 406.9 388.4 409.4 386.8 C411.9 385.2 415.9 383.8 418.2 383.6 C420.5 383.4 422 384.1 423.3 385.5 C424.6 386.9 425 389.7 425.8 391.8 C426.6 393.9 428.3 395 428 398 C427.7 401 425.7 406.7 424 410 C422.3 413.3 420 417 418 418 C416 419 414.4 417.1 411.9 415.9Z" fill="#e41a1c"/><path d="M436 358 C438.3 362.2 440.7 362.8 443.6 365.2 C446.6 367.6 450.1 370.3 453.7 372.2 C457.3 374.1 461.7 376.1 465.1 376.6 C468.5 377.1 471.4 376.6 474 375.3 C476.6 374 478.8 371.4 481 369 C483.2 366.6 485.5 364.2 487 361 C488.5 357.8 490.2 353.2 490 350 C489.8 346.8 487.3 344.5 486 342 C484.7 339.5 484.7 337.7 482 335 C479.3 332.3 477 327.7 470 326 C463 324.3 446.7 322.7 440 325 C433.3 327.3 430.7 334.5 430 340 C429.3 345.5 433.7 353.8 436 358Z" fill="#7aafaa"/><ellipse cx="463" cy="351" rx="11.8" ry="16.2" fill="#2a8cc7" transform="rotate(-14 463 351)"/></g><text transform="translate(241.8 277.7) scale(1.045 1.052)" font-size="16">(d)</text><text x="381" y="281.2" font-size="14.02" text-anchor="middle">Spatial distribution of As content</text><text x="382.6" y="296.9" font-size="13.88" text-anchor="middle">in 0-20 cm soil layer</text><g transform="translate(495.3 323.5)"><path d="M0 -16.9 L3 -3 L16.7 0 L3 3 L0 16.9 L-3 3 L-16.7 0 L-3 -3 Z" fill="#fff" stroke="#9a9a9a" stroke-width="0.35"/><path d="M0 0 L0 -16.9 L3 -3 Z M0 0 L16.7 0 L3 3 Z M0 0 L0 16.9 L-3 3 Z M0 0 L-16.7 0 L-3 -3 Z" fill="#000"/></g><text x="495.5" y="303.5" font-size="8.3" text-anchor="middle" fill="#222">N</text><rect x="420.1" y="505.9" width="85.4" height="3.4" fill="#000"/><rect x="448.6" y="506.7" width="28.5" height="1.8" fill="#fff"/><text x="420.3" y="499.2" font-size="10.2" text-anchor="middle">0</text><text x="462.8" y="499.2" font-size="10.2" text-anchor="middle">235</text><text x="504.9" y="499.2" font-size="10.2" text-anchor="middle">470</text><text transform="translate(507 508.8) scale(0.917 1.000)" font-size="10.5">km</text><text transform="translate(238.5 431.2) scale(0.997 1)" font-size="12.2" font-weight="bold">Legend<tspan dx="1.5">(mg·kg</tspan><tspan font-size="6.1" dy="-5.2">-1</tspan><tspan dy="5.2">)</tspan></text><rect x="241.5" y="438.9" width="19.7" height="6.9" fill="#2a8cc7" stroke="#8c8c78" stroke-width="0.6"/><text transform="translate(263.6 444.8) scale(0.978 1.000)" font-size="11.6">8.921 — 9.923</text><rect x="241.5" y="449.9" width="19.7" height="6.9" fill="#7aafaa" stroke="#8c8c78" stroke-width="0.6"/><text transform="translate(263.6 456.1) scale(0.988 1.000)" font-size="11.6">9.923 — 10.914</text><rect x="241.5" y="461" width="19.7" height="6.9" fill="#bbd188" stroke="#8c8c78" stroke-width="0.6"/><text transform="translate(263.6 467.4) scale(0.981 1.000)" font-size="11.6">10.914 <tspan fill="#cdcdcd" stroke="none">—</tspan> 11.913</text><rect x="241.5" y="472" width="19.7" height="6.9" fill="#fcfa66" stroke="#8c8c78" stroke-width="0.6"/><text transform="translate(263.6 478.6) scale(0.981 1.000)" font-size="11.6">11.913 <tspan fill="#cdcdcd" stroke="none">—</tspan> 12.902</text><rect x="241.5" y="483" width="19.7" height="6.9" fill="#fdb146" stroke="#8c8c78" stroke-width="0.6"/><text transform="translate(263.6 489.9) scale(0.975 1.000)" font-size="11.6">12.902 <tspan fill="#cdcdcd" stroke="none">—</tspan> 13.901</text><rect x="241.5" y="494.1" width="19.7" height="6.9" fill="#f5742b" stroke="#8c8c78" stroke-width="0.6"/><text transform="translate(263.6 501.2) scale(0.975 1.000)" font-size="11.6">13.901 <tspan fill="#f0f0f0" stroke="none">—</tspan> 14.892</text><rect x="241.5" y="505.1" width="19.7" height="6.9" fill="#e41a1c" stroke="#8c8c78" stroke-width="0.6"/><text transform="translate(263.6 512.5) scale(0.975 1.000)" font-size="11.6">14.892 <tspan fill="#cdcdcd" stroke="none">—</tspan> 15.893</text><circle cx="199.2" cy="322.4" r="0.9" fill="#222"/></g>
<g><rect x="533.7" y="262.5" width="288.7" height="253.2" fill="#fff"/><path d="M533.7 262 V516.3" stroke="#333" stroke-width="1.2" fill="none"/><path d="M822.4 262 V516.3" stroke="#888" stroke-width="1.2" fill="none"/><path d="M533.1 262.5 H823" stroke="#333" stroke-width="1.1" fill="none"/><path d="M533.1 515.7 H823" stroke="#999" stroke-width="1.4" fill="none"/><mask id="c6" maskUnits="userSpaceOnUse" x="543.8" y="330.5" width="269.2" height="117.8"><use href="#ol" transform="translate(546.80 333.50) scale(0.9174 0.9149) translate(-845.00 -328.70)" fill="#fff"/></mask><g mask="url(#c6)"><rect x="544.8" y="331.5" width="267.2" height="115.8" fill="#bbd188"/><path d="M563 386 C562.3 379.3 564.5 375.7 566 372 C567.5 368.3 569.7 367.3 572 364 C574.3 360.7 572 355 580 352 C588 349 603.3 346.3 620 346 C636.7 345.7 670.5 346.8 680 350 C689.5 353.2 678.7 360.3 677 365 C675.3 369.7 672.8 372.2 670 378 C667.2 383.8 662.7 393.3 660 400 C657.3 406.7 655.5 412.7 654 418 C652.5 423.3 656.7 429 651 432 C645.3 435 630.2 436.7 620 436 C609.8 435.3 598.3 432 590 428 C581.7 424 574.5 419 570 412 C565.5 405 563.7 392.7 563 386Z" fill="#7aafaa"/><path d="M589 390 C588.7 386.5 590.5 383.7 592 381 C593.5 378.3 595.3 376 598 374 C600.7 372 604.3 370.3 608 369 C611.7 367.7 614.7 366.7 620 366 C625.3 365.3 635.3 364.8 640 365 C644.7 365.2 646.2 366.3 648 367.5 C649.8 368.7 650.3 369.2 651 372 C651.7 374.8 652.8 379.3 652 384 C651.2 388.7 648.7 395.3 646 400 C643.3 404.7 639.7 409.5 636 412 C632.3 414.5 627.7 414.8 624 415 C620.3 415.2 617 414.3 614 413.5 C611 412.7 609.3 411.9 606 410 C602.7 408.1 596.8 405.3 594 402 C591.2 398.7 589.3 393.5 589 390Z" fill="#2a8cc7"/><path d="M712 369 C713 371.9 715.8 377.3 718 379.5 C720.2 381.7 722 382.2 725 382 C728 381.8 732.2 380.3 736 378 C739.8 375.7 745.8 371 748 368 C750.2 365 749.8 362.5 749.5 360 C749.2 357.5 747.6 355.3 746 353 C744.4 350.7 742.7 347.2 740 346 C737.3 344.8 731.7 343.7 730 346 C728.3 348.3 733 357.3 730 360 C727 362.7 715 360.5 712 362 C709 363.5 711 366.1 712 369Z" fill="#7aafaa"/><path d="M684 445 C677.3 443 682.3 440.5 680 438 C677.7 435.5 671.7 433.3 670 430 C668.3 426.7 669 423 670 418 C671 413 673.7 405 676 400 C678.3 395 680.7 391 684 388 C687.3 385 692 382.7 696 382 C700 381.3 704.3 382.7 708 384 C711.7 385.3 714.3 388.3 718 390 C721.7 391.7 724.7 393.3 730 394 C735.3 394.7 743.3 394 750 394 C756.7 394 765.3 394.5 770 394 C774.7 393.5 775.3 391.7 778 391 C780.7 390.3 782.3 389.8 786 390 C789.7 390.2 795.2 391.2 800 392 C804.8 392.8 812.5 388.7 815 395 C817.5 401.3 824.2 422.5 815 430 C805.8 437.5 775.8 436.7 760 440 C744.2 443.3 732.7 449.2 720 450 C707.3 450.8 690.7 447 684 445Z" fill="#fcfa66"/><path d="M683 412 C683.3 407.7 685.5 401.5 688 398 C690.5 394.5 694.3 392 698 391 C701.7 390 706 390.8 710 392 C714 393.2 719.5 393.3 722 398 C724.5 402.7 726.7 413.8 725 420 C723.3 426.2 716.8 432.5 712 435 C707.2 437.5 700.3 436.8 696 435 C691.7 433.2 688.2 427.8 686 424 C683.8 420.2 682.7 416.3 683 412Z" fill="#fdb146"/><path d="M690 410 C690.3 406.7 693.3 402.2 696 400 C698.7 397.8 702.7 396.7 706 397 C709.3 397.3 713.7 399 716 402 C718.3 405 720.7 410.8 720 415 C719.3 419.2 715 425 712 427 C709 429 705 428.2 702 427 C699 425.8 696 422.8 694 420 C692 417.2 689.7 413.3 690 410Z" fill="#f5742b"/><ellipse cx="703.5" cy="409" rx="7" ry="6.3" fill="#e41a1c"/><path d="M726 401 C727.2 401.5 729.7 402.5 733 404 C736.3 405.5 742.2 408 746 410 C749.8 412 752.7 415.2 756 416 C759.3 416.8 762.7 415.7 766 415 C769.3 414.3 773 412.3 776 412 C779 411.7 780.5 412.2 784 413 C787.5 413.8 794.8 416.3 797 417 L797 435 L726 435Z" fill="#fdb146"/><path d="M764 337 C764 339.3 765.8 338.8 768 340 C770.2 341.2 774 342.8 777 344.5 C780 346.2 783.5 348.6 786 350 C788.5 351.4 789.7 352.7 792 353 C794.3 353.3 797.7 353.3 800 352 C802.3 350.7 807.7 349 806 345 C804.3 341 796.3 331.2 790 328 C783.7 324.8 772.3 324.5 768 326 C763.7 327.5 764 334.7 764 337Z" fill="#fcfa66"/></g><text transform="translate(536.7 279.9) scale(1.042 1.130)" font-size="16">(e)</text><text x="679" y="277.9" font-size="14.45" text-anchor="middle">Spatial distribution of Hg content</text><text x="681" y="295" font-size="14.4" text-anchor="middle">in 0-20 cm soil layer</text><g transform="translate(794.6 320.4)"><path d="M0 -18.1 L3.3 -3.3 L18.1 0 L3.3 3.3 L0 18.1 L-3.3 3.3 L-18.1 0 L-3.3 -3.3 Z" fill="#fff" stroke="#9a9a9a" stroke-width="0.35"/><path d="M0 0 L0 -18.1 L3.3 -3.3 Z M0 0 L18.1 0 L3.3 3.3 Z M0 0 L0 18.1 L-3.3 3.3 Z M0 0 L-18.1 0 L-3.3 -3.3 Z" fill="#000"/></g><text x="794.9" y="298.6" font-size="8.2" text-anchor="middle" fill="#222" font-family="Liberation Sans, sans-serif">N</text><rect x="714.7" y="509.9" width="90" height="3.5" fill="#000"/><rect x="744.7" y="510.7" width="30" height="1.9" fill="#fff"/><text x="714.9" y="502.9" font-size="11" text-anchor="middle">0</text><text x="759.7" y="502.9" font-size="11" text-anchor="middle">235</text><text x="804.4" y="502.9" font-size="11" text-anchor="middle">470</text><text transform="translate(806.5 513.1) scale(0.969 1.000)" font-size="10.5">km</text><text transform="translate(534.7 432.4) scale(0.977 1)" font-size="12.4" font-weight="bold">Legend<tspan dx="0">(mg·kg</tspan><tspan font-size="6.2" dy="-5.3">-1</tspan><tspan dy="5.3">)</tspan></text><rect x="535.5" y="437.4" width="16.3" height="6.9" fill="#2a8cc7" stroke="#8c8c78" stroke-width="0.6"/><text transform="translate(553.9 445.5) scale(0.925 1.000)" font-size="12.4">0.007 - 0.012</text><rect x="535.5" y="448.7" width="16.3" height="6.9" fill="#7aafaa" stroke="#8c8c78" stroke-width="0.6"/><text transform="translate(553.9 456.8) scale(0.925 1.000)" font-size="12.4">0.012 - 0.017</text><rect x="535.5" y="460" width="16.3" height="6.9" fill="#bbd188" stroke="#8c8c78" stroke-width="0.6"/><text transform="translate(553.9 468.1) scale(0.925 1.000)" font-size="12.4">0.017 - 0.022</text><rect x="535.5" y="471.2" width="16.3" height="6.9" fill="#fcfa66" stroke="#8c8c78" stroke-width="0.6"/><text transform="translate(553.9 479.3) scale(0.925 1.000)" font-size="12.4">0.022 - 0.027</text><rect x="535.5" y="482.5" width="16.3" height="6.9" fill="#fdb146" stroke="#8c8c78" stroke-width="0.6"/><text transform="translate(553.9 490.6) scale(0.925 1.000)" font-size="12.4">0.027 - 0.032</text><rect x="535.5" y="493.8" width="16.3" height="6.9" fill="#f5742b" stroke="#8c8c78" stroke-width="0.6"/><text transform="translate(553.9 501.9) scale(0.925 1.000)" font-size="12.4">0.031 - 0.036</text><rect x="535.5" y="505.1" width="16.3" height="6.9" fill="#e41a1c" stroke="#8c8c78" stroke-width="0.6"/><text transform="translate(553.9 513.2) scale(0.925 1.000)" font-size="12.4">0.036 - 0.041</text></g>
<g><rect x="830.3" y="262.5" width="316.4" height="253" fill="#fff"/><path d="M830.3 262 V516.1" stroke="#444" stroke-width="1.2" fill="none"/><path d="M1146.7 262 V516.1" stroke="#888" stroke-width="1.2" fill="none"/><path d="M829.7 262.5 H1147.3" stroke="#444" stroke-width="1.1" fill="none"/><path d="M829.7 515.5 H1147.3" stroke="#777" stroke-width="1.4" fill="none"/><mask id="c7" maskUnits="userSpaceOnUse" x="842" y="325.7" width="292.9" height="128.2"><use href="#ol" transform="translate(845.00 328.70) scale(1.0000 1.0000) translate(-845.00 -328.70)" fill="#fff"/></mask><g mask="url(#c7)"><rect x="843" y="326.7" width="290.9" height="126.2" fill="#2a8cc7"/><path d="M939 350 C938.7 351.5 938.7 355.7 937 359 C935.3 362.3 932 365.5 929 370 C926 374.5 922 380.3 919 386 C916 391.7 914.3 398.5 911 404 C907.7 409.5 902.3 414.7 899 419 C895.7 423.3 892.3 428.2 891 430 L891 460 L1150 460 L1150 320 L939 320Z" fill="#8ab8a5"/><path d="M992 355 C991 356.3 989.2 360.5 986 363 C982.8 365.5 977.5 366.8 973 370 C968.5 373.2 963.7 377.7 959 382 C954.3 386.3 949.3 391 945 396 C940.7 401 936.7 407 933 412 C929.3 417 925.8 421.7 923 426 C920.2 430.3 917.2 436 916 438 L916 460 L1150 460 L1150 320 L992 320Z" fill="#d3e47f"/><path d="M942 440 C942.7 438.2 944.2 433.3 946 429 C947.8 424.7 950.2 418.8 953 414 C955.8 409.2 959 404 963 400 C967 396 972 392.7 977 390 C982 387.3 987.7 385.2 993 384 C998.3 382.8 1004 382.7 1009 383 C1014 383.3 1018.7 385.7 1023 386 C1027.3 386.3 1031.7 386 1035 385 C1038.3 384 1041.1 381.8 1043 380 C1044.9 378.2 1046 376.5 1046.5 374 C1047 371.5 1046.4 369 1046 365 C1045.6 361 1044 355.8 1044 350 C1044 344.2 1045.7 333.3 1046 330 L1046 320 L1150 320 L1150 460 L942 460Z" fill="#fdd056"/><path d="M962 440 C962.5 438 963.2 432.3 965 428 C966.8 423.7 970 418.2 973 414 C976 409.8 979.3 405.8 983 403 C986.7 400.2 991 398.2 995 397 C999 395.8 1003.2 395.5 1007 396 C1010.8 396.5 1015.2 398.5 1018 400 C1020.8 401.5 1021.3 402.3 1024 405 C1026.7 407.7 1032.3 414.2 1034 416 L1034 460 L962 460Z" fill="#f5832f"/><path d="M984 455 C984 452.8 984 446.5 984 442 C984 437.5 983.2 432.7 984 428 C984.8 423.3 986.5 417.5 989 414 C991.5 410.5 995.3 408 999 407 C1002.7 406 1007.3 406.8 1011 408 C1014.7 409.2 1017.8 411.3 1021 414 C1024.2 416.7 1028.5 422.3 1030 424 L1030 460 L984 460Z" fill="#e41a1c"/><path d="M1072 318 C1072.3 320.3 1073.2 326.7 1074 332 C1074.8 337.3 1075.8 343.7 1077 350 C1078.2 356.3 1080.2 363.7 1081 370 C1081.8 376.3 1082.8 383 1082 388 C1081.2 393 1078.7 396.7 1076 400 C1073.3 403.3 1070 406.8 1066 408 C1062 409.2 1056 406.3 1052 407 C1048 407.7 1043.7 411.2 1042 412 L1042 460 L1150 460 L1150 318Z" fill="#f5832f"/><path d="M1121 338 C1120 340 1117 346 1115 350 C1113 354 1110.3 358 1109 362 C1107.7 366 1106.8 370.3 1107 374 C1107.2 377.7 1108.3 381.3 1110 384 C1111.7 386.7 1114.7 388.5 1117 390 C1119.3 391.5 1120.2 392 1124 393 C1127.8 394 1137.3 395.5 1140 396 L1145 396 L1145 338Z" fill="#e41a1c"/></g><text transform="translate(831.7 277.8) scale(1.070 1.201)" font-size="16">(f)</text><text transform="translate(993.8 277.9) scale(1 1.050)" font-size="15.38" text-anchor="middle">Spatial distribution of the potential ecological</text><text transform="translate(995.7 294.5) scale(1 1.050)" font-size="15.39" text-anchor="middle">risk Index  in  the 0-20 cm soil layer</text><g transform="translate(1117.7 323.8)"><path d="M0 -18.4 L3.3 -3.3 L18.4 0 L3.3 3.3 L0 18.4 L-3.3 3.3 L-18.4 0 L-3.3 -3.3 Z" fill="#fff" stroke="#9a9a9a" stroke-width="0.35"/><path d="M0 0 L0 -18.4 L3.3 -3.3 Z M0 0 L18.4 0 L3.3 3.3 Z M0 0 L0 18.4 L-3.3 3.3 Z M0 0 L-18.4 0 L-3.3 -3.3 Z" fill="#000"/></g><text x="1118" y="301.8" font-size="8.6" text-anchor="middle" fill="#222" font-family="Liberation Sans, sans-serif">N</text><rect x="1034.3" y="507.8" width="93.9" height="3.6" fill="#000"/><rect x="1065.6" y="508.6" width="31.3" height="2" fill="#fff"/><text x="1034.5" y="500.9" font-size="11" text-anchor="middle">0</text><text x="1081.3" y="500.9" font-size="11" text-anchor="middle">235</text><text x="1128" y="500.9" font-size="11" text-anchor="middle">470</text><text transform="translate(1129.9 511.1) scale(1.021 1.000)" font-size="10.5">km</text><text transform="translate(835.6 441.2) scale(0.947 1.000)" font-size="13" font-weight="bold">Legend</text><rect x="835.3" y="447.1" width="15.1" height="7.2" fill="#2a8cc7" stroke="#8c8c78" stroke-width="0.6"/><text x="853.9" y="455.1" font-size="12.6">47.071 - 59.793</text><rect x="835.3" y="459.5" width="15.1" height="7.2" fill="#8ab8a5" stroke="#8c8c78" stroke-width="0.6"/><text x="853.9" y="467.6" font-size="12.6">59.793 - 72.515</text><rect x="835.3" y="471.8" width="15.1" height="7.2" fill="#d3e47f" stroke="#8c8c78" stroke-width="0.6"/><text x="853.9" y="479.9" font-size="12.6">72.515 - 85.237</text><rect x="835.3" y="483.7" width="15.1" height="7.2" fill="#fdd056" stroke="#8c8c78" stroke-width="0.6"/><text x="853.9" y="491.3" font-size="12.6">85.237 - 97.959</text><rect x="835.3" y="494.5" width="15.1" height="7.2" fill="#f5832f" stroke="#8c8c78" stroke-width="0.6"/><text transform="translate(853.9 502.4) scale(0.984 1.000)" font-size="12.6">97.959 - 110.681</text><rect x="835.3" y="505.8" width="15.1" height="7.2" fill="#e41a1c" stroke="#8c8c78" stroke-width="0.6"/><text transform="translate(853.9 513.7) scale(0.990 1.000)" font-size="12.6">110.681 - 123.403</text></g>
<g><rect x="405.3" y="522.3" width="296.5" height="255.3" fill="#fff"/><path d="M405.3 521.8 V778.2" stroke="#666" stroke-width="1.2" fill="none"/><path d="M701.8 521.8 V778.2" stroke="#666" stroke-width="1.2" fill="none"/><path d="M404.7 522.3 H702.4" stroke="#777" stroke-width="1.1" fill="none"/><path d="M404.7 777.6 H702.4" stroke="#555" stroke-width="1.4" fill="none"/><mask id="c8" maskUnits="userSpaceOnUse" x="415" y="588.2" width="276.2" height="124.1"><use href="#ol" transform="translate(418.00 591.20) scale(0.9418 0.9664) translate(-845.00 -328.70)" fill="#fff"/></mask><g mask="url(#c8)"><rect x="416" y="589.2" width="274.2" height="122.1" fill="#d3e47f"/><path d="M440 603 C454.3 601.8 510 602.7 524 606 C538 609.3 524.3 617.2 524 623 C523.7 628.8 523.7 634.7 522 641 C520.3 647.3 516.7 654.7 514 661 C511.3 667.3 508 673.5 506 679 C504 684.5 513 691.2 502 694 C491 696.8 455.7 701 440 696 C424.3 691 410.7 674.3 408 664 C405.3 653.7 420 640.7 424 634 C428 627.3 429.7 627.5 432 624 C434.3 620.5 436.7 616.5 438 613 C439.3 609.5 425.7 604.2 440 603Z" fill="#8ab8a5"/><ellipse cx="479" cy="651" rx="23.6" ry="28.2" fill="#2a8cc7" transform="rotate(8 479 651)"/><path d="M518 698 C518.5 695.8 519.7 690.5 521 685 C522.3 679.5 523.8 671.7 526 665 C528.2 658.3 531 651 534 645 C537 639 540 633 544 629 C548 625 553 621.3 558 621 C563 620.7 569.3 624 574 627 C578.7 630 582 635 586 639 C590 643 594.8 648 598 651 C601.2 654 602.8 654.9 605 657 C607.2 659.1 609.2 661.2 611 663.5 C612.8 665.8 614.7 668.4 616 671 C617.3 673.6 618.5 677.7 619 679 L606 679 L600 668 L600 715 L518 715Z" fill="#fdd056"/><path d="M533 704 C533.2 701.8 533.7 695.8 534 691 C534.3 686.2 533.7 681 535 675 C536.3 669 539.2 660 542 655 C544.8 650 548.3 647.2 552 645 C555.7 642.8 560 641.7 564 642 C568 642.3 572.3 644.8 576 647 C579.7 649.2 583.7 652.8 586 655 C588.3 657.2 587.3 657.8 590 660 C592.7 662.2 600 666.7 602 668 L602 715 L533 715Z" fill="#f5832f"/><path d="M549 714 C548.8 711.8 548.5 705.8 548 701 C547.5 696.2 545.7 690.3 546 685 C546.3 679.7 548 673 550 669 C552 665 555 662.7 558 661 C561 659.3 564.7 658.7 568 659 C571.3 659.3 575.3 661.7 578 663 C580.7 664.3 580.8 665.3 584 667 C587.2 668.7 594.8 672 597 673 L598 715 L549 715Z" fill="#e41a1c"/><path d="M616 628 C616.7 624.7 618.7 621.2 621 619 C623.3 616.8 626.2 614.9 630 615 C633.8 615.1 640 616.8 644 619.5 C648 622.2 651.5 627.1 654 631 C656.5 634.9 657.3 640 659 643 C660.7 646 662.2 647.7 664 649 C665.8 650.3 667.3 651.3 670 651 C672.7 650.7 677.3 648 680 647 C682.7 646 684.3 644.5 686 645 C687.7 645.5 691 648.2 690 650 C689 651.8 684.7 654.2 680 656 C675.3 657.8 665.3 659.5 662 661 C658.7 662.5 661.3 663 660 665 C658.7 667 657 671 654 673 C651 675 646 678 642 677 C638 676 633.3 671 630 667 C626.7 663 624.2 657.7 622 653 C619.8 648.3 618 643.2 617 639 C616 634.8 615.3 631.3 616 628Z" fill="#8ab8a5"/><ellipse cx="645" cy="649.4" rx="7" ry="6.8" fill="#2a8cc7"/></g><text transform="translate(407.8 539.9) scale(1.040 1.130)" font-size="16">(g)</text><text x="555.6" y="535.8" font-size="14.45" text-anchor="middle">Spatial distribution of the comprehensive</text><text x="559.5" y="553" font-size="14.46" text-anchor="middle">pollution index in the 0-20 cm soil layer</text><g transform="translate(674.3 586.8)"><path d="M0 -18.1 L3.1 -3.3 L17.3 0 L3.1 3.3 L0 18.1 L-3.1 3.3 L-17.3 0 L-3.1 -3.3 Z" fill="#fff" stroke="#9a9a9a" stroke-width="0.35"/><path d="M0 0 L0 -18.1 L3.1 -3.3 Z M0 0 L17.3 0 L3.1 3.3 Z M0 0 L0 18.1 L-3.1 3.3 Z M0 0 L-17.3 0 L-3.1 -3.3 Z" fill="#000"/></g><text x="674.6" y="565.7" font-size="9" text-anchor="middle" fill="#222">N</text><rect x="596.8" y="771.5" width="88.3" height="3.1" fill="#000"/><rect x="626.2" y="772.3" width="29.4" height="1.5" fill="#fff"/><text x="597" y="764.6" font-size="11" text-anchor="middle">0</text><text x="640.4" y="764.6" font-size="11" text-anchor="middle">235</text><text x="684.4" y="764.6" font-size="11" text-anchor="middle">470</text><text transform="translate(686.9 774.3) scale(0.865 1.000)" font-size="10.5">km</text><text transform="translate(407.6 700.6) scale(0.955 1.000)" font-size="12.4" font-weight="bold">Legend</text><rect x="407.5" y="709.1" width="13.1" height="6.4" fill="#2a8cc7" stroke="#8c8c78" stroke-width="0.6"/><text transform="translate(423 716.6) scale(0.956 1.000)" font-size="12.4">0.256 - 0.280</text><rect x="407.5" y="721.3" width="13.1" height="6.4" fill="#d3e47f" stroke="#8c8c78" stroke-width="0.6"/><text transform="translate(423 728.6) scale(0.956 1.000)" font-size="12.4">0.304 - 0.328</text><rect x="407.5" y="732" width="13.1" height="6.4" fill="#fdd056" stroke="#8c8c78" stroke-width="0.6"/><text transform="translate(423 739.5) scale(0.956 1.000)" font-size="12.4">0.328 - 0.352</text><rect x="407.5" y="742.9" width="13.1" height="6.4" fill="#8ab8a5" stroke="#8c8c78" stroke-width="0.6"/><text transform="translate(423 749.8) scale(0.956 1.000)" font-size="12.4">0.280 - 0.304</text><rect x="407.5" y="754.4" width="13.1" height="6.4" fill="#f5832f" stroke="#8c8c78" stroke-width="0.6"/><text transform="translate(423 761.7) scale(0.956 1.000)" font-size="12.4">0.356 - 0.376</text><rect x="407.5" y="766.2" width="13.1" height="6.4" fill="#e41a1c" stroke="#8c8c78" stroke-width="0.6"/><text transform="translate(423 773.7) scale(0.962 1.000)" font-size="12.4">0.376 - 0.411</text></g>
<g><rect x="706.8" y="522.6" width="299.8" height="255.6" fill="#fff"/><path d="M706.8 522.1 V778.8" stroke="#666" stroke-width="1.2" fill="none"/><path d="M1006.6 522.1 V778.8" stroke="#777" stroke-width="1.2" fill="none"/><path d="M706.2 522.6 H1007.2" stroke="#666" stroke-width="1.1" fill="none"/><path d="M706.2 778.2 H1007.2" stroke="#555" stroke-width="1.4" fill="none"/><mask id="c9" maskUnits="userSpaceOnUse" x="717.2" y="589.3" width="277.8" height="123"><use href="#ol" transform="translate(720.20 592.30) scale(0.9474 0.9574) translate(-845.00 -328.70)" fill="#fff"/></mask><g mask="url(#c9)"><rect x="718.2" y="590.3" width="275.8" height="121" fill="#7aafaa"/><ellipse cx="789.5" cy="642.4" rx="20.3" ry="24.3" fill="#2a8cc7" transform="rotate(8 789.5 642.4)"/><path d="M826.5 637.8 C826.2 636.7 826.9 632.9 828 631 C829.1 629.1 831 627.8 833 626.5 C835 625.2 838.1 624 840 623.5 C841.9 623 844.2 622.9 844.5 623.8 C844.8 624.7 843.2 627.3 842 629 C840.8 630.7 839 632.6 837 634 C835 635.4 831.8 636.9 830 637.5 C828.2 638.1 826.8 638.9 826.5 637.8Z" fill="#bbd188"/><path d="M871 633 C870.8 631.7 871.5 630.3 873 629 C874.5 627.7 876.8 625.7 880 625 C883.2 624.3 888.2 624.8 892 625 C895.8 625.2 900.5 624.8 903 626 C905.5 627.2 906.2 630 907 632 C907.8 634 907.8 636.2 907.5 638 C907.2 639.8 907.1 641.8 905 643 C902.9 644.2 898 644.9 895 645 C892 645.1 889.3 644.2 887 643.5 C884.7 642.8 883.2 642.1 881 641 C878.8 639.9 875.7 638.3 874 637 C872.3 635.7 871.2 634.3 871 633Z" fill="#2a8cc7"/><path d="M914 620 C914.2 621.2 914 623.8 915 627 C916 630.2 919.5 635.5 920 639 C920.5 642.5 918.8 645.4 918 648 C917.2 650.6 916.8 653.9 915 654.5 C913.2 655.1 910 652.4 907 651.5 C904 650.6 899.7 649.2 897 649 C894.3 648.8 894.7 650.3 891 650 C887.3 649.7 879.7 646.8 875 647 C870.3 647.2 866.3 648.7 863 651 C859.7 653.3 857 657.5 855 661 C853 664.5 851.5 668.5 851 672 C850.5 675.5 851 678.8 851.7 682 C852.4 685.2 853 688.2 855.1 691.1 C857.2 694 861.2 696.8 864.2 699.1 C867.2 701.4 870.7 703.1 873.3 704.8 C875.9 706.4 878.9 708.3 880 709 L880 715 L1000 715 L1000 580 L914 580Z" fill="#bbd188"/><path d="M859 675 C859 671 860.7 666.3 863 663 C865.3 659.7 869.3 656.5 873 655 C876.7 653.5 881.3 653.2 885 654 C888.7 654.8 893 654 895 660 C897 666 899 683.8 897 690 C895 696.2 887 696.2 883 697 C879 697.8 876.3 696.7 873 695 C869.7 693.3 865.3 690.3 863 687 C860.7 683.7 859 679 859 675Z" fill="#fcfa66"/><path d="M865 675 C865 672 867 667.5 869 665 C871 662.5 874 660.7 877 660 C880 659.3 884 659.7 887 661 C890 662.3 893.7 663.8 895 668 C896.3 672.2 896.3 682.5 895 686 C893.7 689.5 890 688.5 887 689 C884 689.5 880 690 877 689 C874 688 871 685.3 869 683 C867 680.7 865 678 865 675Z" fill="#fdb146"/><path d="M870 675 C870 672.7 872.2 669.7 874 668 C875.8 666.3 878.5 665.2 881 665 C883.5 664.8 887 665.3 889 667 C891 668.7 893 672.3 893 675 C893 677.7 891 681.3 889 683 C887 684.7 883.5 685.2 881 685 C878.5 684.8 875.8 683.7 874 682 C872.2 680.3 870 677.3 870 675Z" fill="#f5742b"/><ellipse cx="880.2" cy="675.6" rx="4.8" ry="7.8" fill="#e41a1c" transform="rotate(30 880.2 675.6)"/><path d="M945 588 C945.2 589.8 945.7 594.5 946 599 C946.3 603.5 945.8 609.7 947 615 C948.2 620.3 950.5 627.5 953 631 C955.5 634.5 958.3 635.8 962 636 C965.7 636.2 970.8 633.8 975 632 C979.2 630.2 983.5 627.2 987 625 C990.5 622.8 994.5 620 996 619 L1000 619 L1000 588Z" fill="#7aafaa"/><ellipse cx="969.4" cy="614.4" rx="2.6" ry="2.3" fill="#2a8cc7"/><path d="M971 657 C969.7 657.7 965.3 659 963 661 C960.7 663 958.7 666 957 669 C955.3 672 953.7 675.5 953 679 C952.3 682.5 953 688.2 953 690 L953 700 L985 700 L985 657Z" fill="#fcfa66"/></g><use href="#ol" transform="translate(720.20 592.30) scale(0.9474 0.9574) translate(-845.00 -328.70)" fill="none" stroke="#59665c" stroke-width="0.75" stroke-opacity="0.6"/><text transform="translate(709.4 537.8) scale(1.051 1.144)" font-size="16">(h)</text><text x="857.2" y="536.6" font-size="14.51" text-anchor="middle">Spatial distribution of Hg enrichment factor</text><text x="859.4" y="552.7" font-size="14.39" text-anchor="middle">index in 0-20 cm soil layer</text><g transform="translate(978.3 582)"><path d="M0 -18.1 L3.2 -3.3 L17.9 0 L3.2 3.3 L0 18.1 L-3.2 3.3 L-17.9 0 L-3.2 -3.3 Z" fill="#fff" stroke="#9a9a9a" stroke-width="0.35"/><path d="M0 0 L0 -18.1 L3.2 -3.3 Z M0 0 L17.9 0 L3.2 3.3 Z M0 0 L0 18.1 L-3.2 3.3 Z M0 0 L-17.9 0 L-3.2 -3.3 Z" fill="#000"/></g><text x="978.6" y="561.1" font-size="8.7" text-anchor="middle" fill="#222">N</text><rect x="901" y="771.7" width="88.3" height="3.3" fill="#000"/><rect x="930.4" y="772.5" width="29.4" height="1.7" fill="#fff"/><text x="901.4" y="764.9" font-size="11" text-anchor="middle">0</text><text x="945.2" y="764.9" font-size="11" text-anchor="middle">235</text><text x="988.7" y="764.9" font-size="11" text-anchor="middle">470</text><text transform="translate(990.8 774.6) scale(0.954 1.000)" font-size="10.5">km</text><text transform="translate(708.4 702.9) scale(0.958 1.000)" font-size="12" font-weight="bold">Legend</text><rect x="708.4" y="708.7" width="14" height="6.7" fill="#2a8cc7" stroke="#8c8c78" stroke-width="0.6"/><text transform="translate(725.6 716.6) scale(0.947 1.000)" font-size="12.4">0.653 - 1.121</text><rect x="708.4" y="718.6" width="14" height="6.7" fill="#7aafaa" stroke="#8c8c78" stroke-width="0.6"/><text transform="translate(725.6 726.5) scale(0.947 1.000)" font-size="12.4">1.121 - 1.588</text><rect x="708.4" y="728.4" width="14" height="6.7" fill="#bbd188" stroke="#8c8c78" stroke-width="0.6"/><text transform="translate(725.6 736.3) scale(0.947 1.000)" font-size="12.4">1.588 - 2.055</text><rect x="708.4" y="738.3" width="14" height="6.7" fill="#fcfa66" stroke="#8c8c78" stroke-width="0.6"/><text transform="translate(725.6 746.1) scale(0.947 1.000)" font-size="12.4">2.055 - 2.522</text><rect x="708.4" y="748.2" width="14" height="6.7" fill="#fdb146" stroke="#8c8c78" stroke-width="0.6"/><text transform="translate(725.6 756) scale(0.947 1.000)" font-size="12.4">2.522 - 2.990</text><rect x="708.4" y="758" width="14" height="6.7" fill="#f5742b" stroke="#8c8c78" stroke-width="0.6"/><text transform="translate(725.6 765.9) scale(0.947 1.000)" font-size="12.4">2.990 - 3.457</text><rect x="708.4" y="767.9" width="14" height="6.7" fill="#e41a1c" stroke="#8c8c78" stroke-width="0.6"/><text transform="translate(725.6 775.7) scale(0.947 1.000)" font-size="12.4">3.457 - 3.925</text></g>
</svg>
</body></html>
